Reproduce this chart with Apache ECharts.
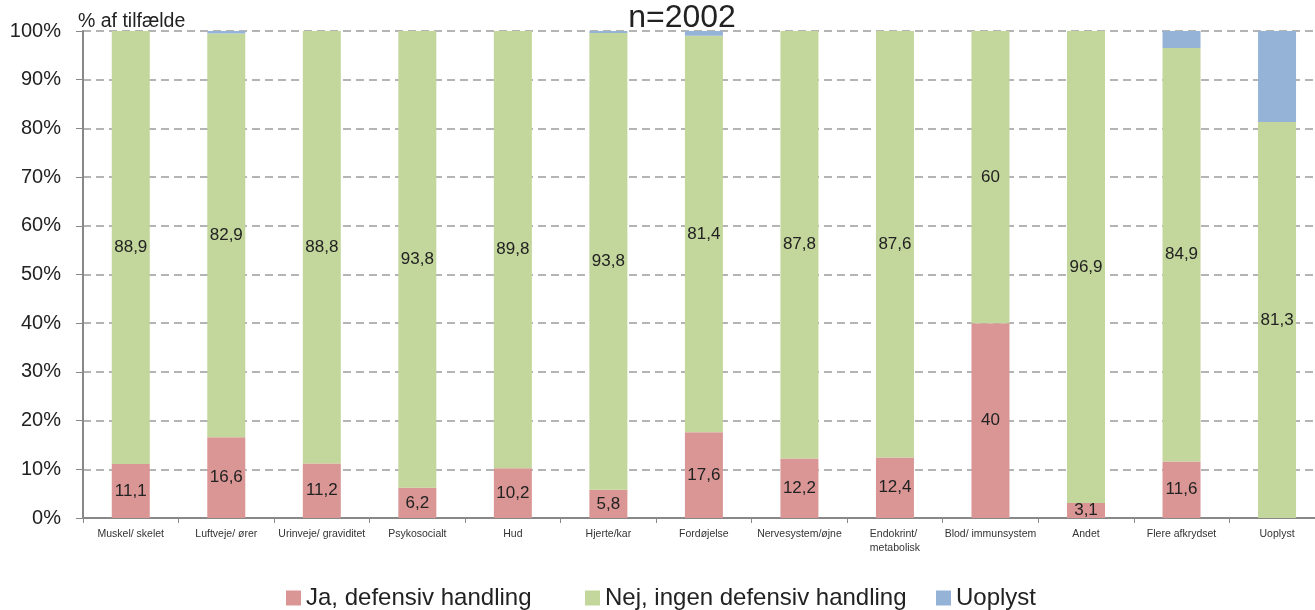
<!DOCTYPE html>
<html>
<head>
<meta charset="utf-8">
<script src="https://cdn.jsdelivr.net/npm/echarts@6/dist/echarts.min.js"></script>
<style>
html,body{margin:0;padding:0;background:#fff;overflow:hidden;width:1315px;height:610px;}
#chart{width:1326px;height:610px;}
</style>
</head>
<body>
<div id="chart"></div>
<script>
var titleText = 'n=2002';
var yAxisTitle = '% af tilfælde';
var categories = ['Muskel/ skelet','Luftveje/ ører','Urinveje/ graviditet','Psykosocialt','Hud','Hjerte/kar','Fordøjelse','Nervesystem/øjne','Endokrint/ metabolisk','Blod/ immunsystem','Andet','Flere afkrydset','Uoplyst'];
var seriesNames = ['Ja, defensiv handling','Nej, ingen defensiv handling','Uoplyst'];
var jaValues = [11.1,16.6,11.2,6.2,10.2,5.8,17.6,12.2,12.4,40,3.1,11.6,0];
var nejValues = [88.9,82.9,88.8,93.8,89.8,93.8,81.4,87.8,87.6,60,96.9,84.9,81.3];
var uoplystValues = [0,0.5,0,0,0,0.4,1.0,0,0,0,0,3.5,18.7];
var yTicks = [0,10,20,30,40,50,60,70,80,90,100];
var colors = ['#D99694','#C3D69B','#95B3D7'];

var FONT = 'Liberation Sans';
var chart = echarts.init(document.getElementById('chart'), null, {renderer:'canvas'});

function lbl(p){ return p.value ? String(p.value).replace('.', ',') : ''; }

var legendText = {fontFamily:FONT, fontSize:24, color:'#222'};
var option = {
  animation:false,
  color: colors,
  title: {
    text: titleText, left: 677, top: -3, textAlign:'center',
    textStyle:{fontFamily:FONT, fontSize:32, fontWeight:'normal', color:'#222'}
  },
  graphic: [{
    type:'text', left:78, top:12,
    style:{text:yAxisTitle, font:'19.5px "Liberation Sans"', fill:'#222'}
  }],
  legend: [
    {data:[seriesNames[0]], left:281, bottom:-5, itemWidth:15, itemHeight:15, itemGap:0, icon:'rect', textStyle:legendText},
    {data:[seriesNames[1]], left:580, bottom:-5, itemWidth:15, itemHeight:15, itemGap:0, icon:'rect', textStyle:legendText},
    {data:[seriesNames[2]], left:931, bottom:-5, itemWidth:15, itemHeight:15, itemGap:0, icon:'rect', textStyle:legendText}
  ],
  grid: {left:83, right:0, top:31, bottom:92, containLabel:false},
  xAxis: {
    type:'category', data:categories,
    axisLine:{show:true, lineStyle:{color:'#888', width:2}},
    axisTick:{show:true, length:5, lineStyle:{color:'#888', width:1}},
    axisLabel:{interval:0, margin:9, fontFamily:FONT, fontSize:10.5, color:'#333', lineHeight:14,
      width:92, overflow:'break'}
  },
  yAxis: {
    type:'value', min:yTicks[0], max:yTicks[yTicks.length-1], interval:10,
    axisLine:{show:true, lineStyle:{color:'#888', width:2}},
    axisTick:{show:true, length:7, lineStyle:{color:'#888', width:1}},
    axisLabel:{margin:22, fontFamily:FONT, fontSize:20, color:'#222', formatter:'{value}%'},
    splitLine:{show:true, lineStyle:{color:'#9c9c9c', width:1.5, type:[8,5]}}
  },
  series: [
    {name:seriesNames[0], type:'bar', stack:'a', data:jaValues, barWidth:38,
     label:{show:true, position:'inside', formatter:lbl, fontFamily:FONT, fontSize:17, color:'#222'}},
    {name:seriesNames[1], type:'bar', stack:'a', data:nejValues, barWidth:38,
     label:{show:true, position:'inside', formatter:lbl, fontFamily:FONT, fontSize:17, color:'#222'}},
    {name:seriesNames[2], type:'bar', stack:'a', data:uoplystValues, barWidth:38,
     label:{show:false}}
  ]
};
chart.setOption(option);
</script>
</body>
</html>
